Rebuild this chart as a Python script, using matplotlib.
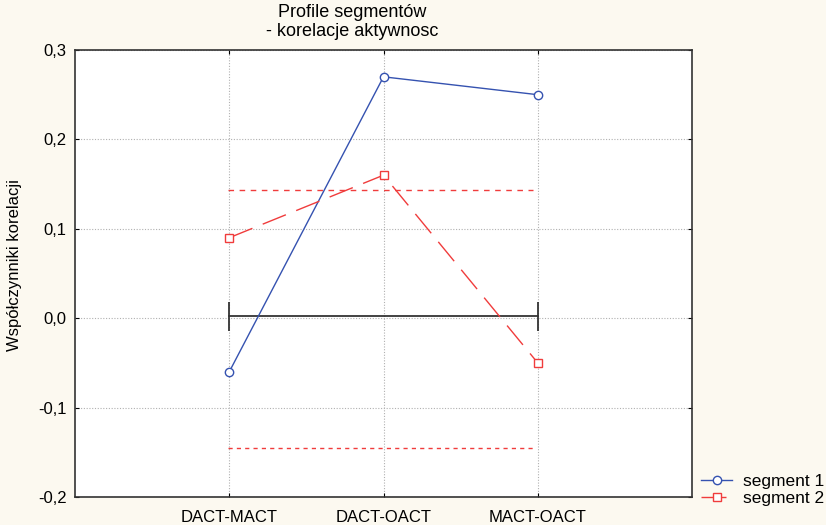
import numpy as np
import matplotlib.pyplot as plt

categories = ['DACT-MACT', 'DACT-OACT', 'MACT-OACT']
segment1 = [-0.06, 0.27, 0.25]
segment2 = [0.09, 0.16, -0.05]
upper_limit = 0.143
lower_limit = -0.145
mean_line = 0.002
yticks = [-0.2, -0.1, 0.0, 0.1, 0.2, 0.3]

plt.rcParams['font.family'] = ['Liberation Sans', 'DejaVu Sans']

fig = plt.figure(figsize=(8.26, 5.25), dpi=100, facecolor='#fcf9f0')
ax = fig.add_axes([75 / 826, 28 / 525, 617 / 826, 447 / 525])
ax.set_facecolor('white')

x = np.arange(len(categories))

ax.plot(x, segment1, color='#3552b0', lw=1.0, marker='o', ms=6,
        mfc='white', mec='#3552b0', mew=1.0, label='segment 1', zorder=4)
ax.plot(x, segment2, color='#f03c3c', lw=1.0, marker='s', ms=6,
        mfc='white', mec='#f03c3c', mew=1.0, dashes=(18, 8),
        label='segment 2', zorder=4)

# limit lines
ax.plot([-0.01, 1.97], [upper_limit, upper_limit], color='#f03c3c', lw=1.0,
        dashes=(4, 4), zorder=3)
ax.plot([-0.01, 1.97], [lower_limit, lower_limit], color='#f03c3c', lw=1.0,
        dashes=(3, 3), zorder=3)

# black span with caps
ax.plot([0, 2], [mean_line, mean_line], color='#222222', lw=1.2, zorder=3)
ax.vlines([0, 2], mean_line - 0.016, mean_line + 0.016, color='#333333', lw=1.3, zorder=3)

ax.set_xlim(-1, 3)
ax.set_ylim(-0.2, 0.3)
ax.set_xticks(x)
ax.set_xticklabels(categories, fontsize=12)
ax.set_yticks(yticks)
ax.set_yticklabels([f'{v:.1f}'.replace('.', ',') for v in yticks], fontsize=12)
ax.grid(True, color='#b0b0b0', ls=(0, (1, 1.5)), lw=0.8)
ax.tick_params(direction='in', length=3, top=True, right=True, pad=6)
ax.tick_params(axis='x', pad=9)

for s in ax.spines.values():
    s.set_color('#333333')
    s.set_linewidth(1.2)

fig.text(15 / 826, 1 - 265 / 525, 'Współczynniki korelacji', rotation=90,
         fontsize=12, ha='center', va='center')
fig.text(352 / 826, 1 - 22 / 525, 'Profile segmentów\n- korelacje aktywnosc',
         fontsize=13, ha='center', va='center', linespacing=1.1)

fig.legend(loc='lower left', bbox_to_anchor=(694 / 826, 12 / 525), frameon=False,
           fontsize=12.5, handlelength=1.8, handletextpad=0.6, labelspacing=0.1,
           borderaxespad=0)

fig.savefig('out.png', dpi=100, facecolor=fig.get_facecolor())
